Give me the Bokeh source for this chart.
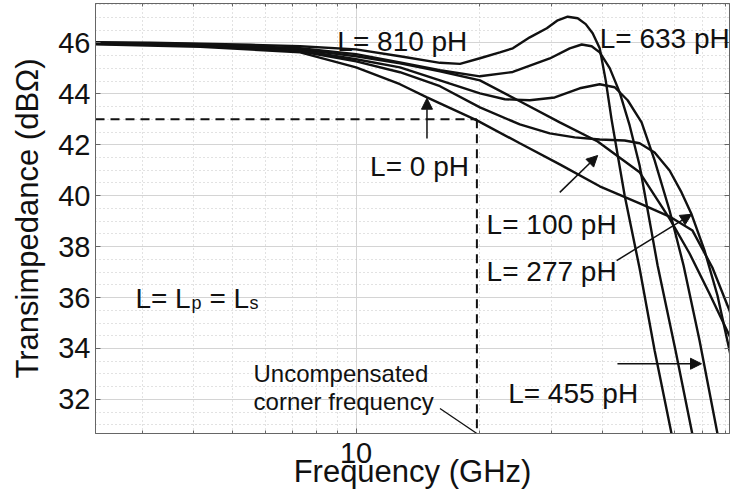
from bokeh.plotting import figure
from bokeh.models import (Range1d, FixedTicker, LinearAxis, LogAxis, Label, Arrow,
                          NormalHead, NumeralTickFormatter)
from bokeh.embed import file_html
from bokeh.resources import INLINE

# Transimpedance (dBOhm) versus frequency (GHz) for each peaking inductance L = Lp = Ls
freq_0 = [2.2, 4.164, 7.301, 10.0, 12.80, 14.90, 16.03, 19.73, 25.12, 31.45, 39.37, 49.28, 58.32, 66.36, 74.19, 81.71, 84.0]
gain_0 = [45.95, 45.85, 45.63, 45.04, 44.38, 43.86, 43.63, 42.96, 42.06, 41.23, 40.37, 39.70, 39.18, 38.63, 37.18, 35.49, 34.8]

freq_100 = [2.2, 4.164, 7.301, 10.0, 12.80, 16.03, 20.07, 25.12, 31.45, 38.92, 49.28, 58.32, 65.27, 72.97, 81.71, 84.0]
gain_100 = [46.01, 45.93, 45.75, 45.48, 45.20, 44.89, 44.53, 43.71, 42.88, 42.13, 40.92, 39.10, 37.73, 36.16, 34.50, 34.0]

freq_277 = [2.2, 4.164, 7.301, 10.0, 12.80, 16.03, 20.07, 25.12, 29.73, 34.20, 39.37, 45.30, 49.28, 53.62,
            58.32, 62.38, 66.01, 70.99, 76.36, 81.71, 84.0]
gain_277 = [45.97, 45.91, 45.67, 45.28, 44.85, 44.30, 43.47, 42.80, 42.45, 42.29, 42.21, 42.17, 42.06, 41.70,
            40.99, 40.13, 39.27, 37.85, 36.08, 33.92, 33.0]

freq_455 = [2.2, 4.164, 7.301, 10.0, 12.80, 16.03, 20.07, 23.09, 26.57, 30.57, 35.18, 39.37, 42.83, 46.07,
            49.83, 53.62, 58.32, 63.10, 69.03, 76.36, 79.43]
gain_455 = [45.99, 45.93, 45.71, 45.36, 45.04, 44.53, 44.02, 43.79, 43.75, 43.86, 44.22, 44.38, 44.26, 43.75,
            42.88, 41.39, 39.42, 37.26, 34.31, 30.65, 29.39]

freq_633 = [2.2, 4.164, 7.301, 10.0, 12.80, 16.03, 20.07, 24.15, 29.73, 33.26, 35.58, 37.63, 39.37, 41.65,
            44.05, 46.59, 49.28, 54.53, 60.31, 66.27, 69.03]
gain_633 = [46.01, 45.95, 45.79, 45.56, 45.24, 44.93, 44.69, 44.86, 45.39, 45.79, 45.94, 45.87, 45.63, 45.01,
            44.06, 42.76, 41.19, 37.26, 33.92, 30.65, 29.19]

freq_810 = [2.2, 3.145, 4.164, 5.513, 7.301, 10.0, 12.80, 16.03, 17.94, 20.07, 22.45, 24.15, 26.57, 29.24,
            31.09, 32.88, 34.78, 36.39, 37.84, 39.37, 40.72, 42.12, 45.30, 49.28, 53.62, 58.97, 61.68]
gain_810 = [46.03, 46.01, 45.97, 45.93, 45.87, 45.75, 45.48, 45.22, 45.18, 45.40, 45.63, 45.79, 46.22, 46.58,
            46.89, 47.03, 46.97, 46.74, 46.38, 45.79, 44.53, 42.96, 40.01, 37.14, 33.92, 30.65, 29.0]

curves = [(freq_0, gain_0), (freq_100, gain_100), (freq_277, gain_277),
          (freq_455, gain_455), (freq_633, gain_633), (freq_810, gain_810)]

# 3 dB point of the uncompensated (L = 0) response
corner_freq = 19.73
corner_level = 43.0

x_major = [10]
x_minor = [3, 4, 5, 6, 7, 8, 9, 20, 30, 40, 50, 60, 70, 80]
y_major = [32, 34, 36, 38, 40, 42, 44, 46]
y_minor = [31 + 0.5 * i for i in range(34)]

x_lo, x_hi = 2.309, 81.7
y_lo, y_hi = 30.66, 47.55

FONT = "Liberation Sans"

p = figure(width=730, height=498, x_axis_type="log",
           x_range=Range1d(x_lo, x_hi), y_range=Range1d(y_lo, y_hi),
           output_backend="svg", toolbar_location=None,
           min_border_left=95, min_border_right=1, min_border_top=3, min_border_bottom=65)
p.background_fill_color = "white"
p.border_fill_color = "white"
p.outline_line_color = "#666666"

xt = FixedTicker(ticks=x_major, minor_ticks=x_minor)
yt = FixedTicker(ticks=y_major, minor_ticks=y_minor)

xa = p.xaxis[0]
xa.ticker = xt
xa.formatter = NumeralTickFormatter(format="0")
xa.axis_label = "Frequency (GHz)"
ya = p.yaxis[0]
ya.ticker = yt
ya.axis_label = "Transimpedance (dBΩ)"

for ax in (xa, ya):
    ax.axis_line_color = "#666666"
    ax.major_tick_line_color = "#666666"
    ax.minor_tick_line_color = "#666666"
    ax.major_tick_in = 5
    ax.major_tick_out = 0
    ax.minor_tick_in = 3
    ax.minor_tick_out = 0
    ax.major_label_text_font = FONT
    ax.major_label_text_font_size = "29px"
    ax.major_label_text_color = "#111111"
    ax.axis_label_text_font = FONT
    ax.axis_label_text_font_size = "31px"
    ax.axis_label_text_font_style = "normal"
    ax.axis_label_text_color = "#111111"
ya.minor_tick_in = 0
xa.major_label_standoff = 9
xa.axis_label_standoff = -12
ya.major_label_standoff = 5
ya.axis_label_standoff = 10

# frame ticks on the top and right edges (labels hidden)
top = LogAxis(ticker=xt, formatter=NumeralTickFormatter(format="0"),
              major_label_text_font_size="1px", major_label_text_alpha=0, major_label_standoff=0,
              major_tick_in=5, major_tick_out=0, minor_tick_in=3, minor_tick_out=0,
              axis_line_color="#666666", major_tick_line_color="#666666",
              minor_tick_line_color="#666666")
right = LinearAxis(ticker=yt, major_label_text_font_size="1px", major_label_text_alpha=0,
                   major_label_standoff=0,
                   major_tick_in=5, major_tick_out=0, minor_tick_in=0, minor_tick_out=0,
                   axis_line_color="#666666", major_tick_line_color="#666666")
p.add_layout(top, "above")
p.add_layout(right, "right")

for g in (p.xgrid[0], p.ygrid[0]):
    g.grid_line_color = "#d4d4d4"
    g.grid_line_width = 1
    g.minor_grid_line_color = "#c4c4c4"
    g.minor_grid_line_dash = "1 3"
    g.minor_grid_line_width = 1

for fx, gy in curves:
    p.line(fx, gy, line_color="#111111", line_width=2.4)

# dashed 3 dB marker
p.line([x_lo, corner_freq], [corner_level, corner_level], line_color="#111111",
       line_width=2, line_dash="9 6")
p.line([corner_freq, corner_freq], [corner_level, y_lo], line_color="#111111",
       line_width=2, line_dash="9 6")
p.line([16.03, corner_freq], [31.64, y_lo], line_color="#111111", line_width=1.3)


def label(x, y, text, size="28px", **kw):
    p.add_layout(Label(x=x, y=y, text=text, text_font=FONT, text_font_size=size,
                       text_color="#111111", text_baseline="alphabetic", **kw))


label(9.00, 46.04, "L= 810 pH")
label(39.37, 46.17, "L= 633 pH")
label(10.82, 41.16, "L= 0 pH")
label(20.84, 38.86, "L= 100 pH")
label(20.84, 37.03, "L= 277 pH")
label(23.52, 32.24, "L= 455 pH")
label(5.617, 33.02, "Uncompensated", size="24px")
label(5.617, 31.92, "corner frequency", size="24px")

# L = Lp = Ls, with the subscripts set as smaller, lowered pieces
label(2.89, 35.95, "L= L")
label(2.89, 35.95, "p", size="18px", x_offset=56, y_offset=-4)
label(2.89, 35.95, "= L", x_offset=74)
label(2.89, 35.95, "s", size="18px", x_offset=114, y_offset=-4)


def arrow(x0, y0, x1, y1):
    p.add_layout(Arrow(x_start=x0, y_start=y0, x_end=x1, y_end=y1,
                       line_color="#111111", line_width=1.5,
                       end=NormalHead(size=11, fill_color="#111111", line_color="#111111")))


arrow(14.90, 42.25, 14.90, 43.83)
arrow(31.45, 40.13, 38.92, 41.58)
arrow(43.3, 37.45, 66.01, 39.27)
arrow(43.5, 33.40, 69.8, 33.40)

open("out.html", "w").write(file_html(p, INLINE))
